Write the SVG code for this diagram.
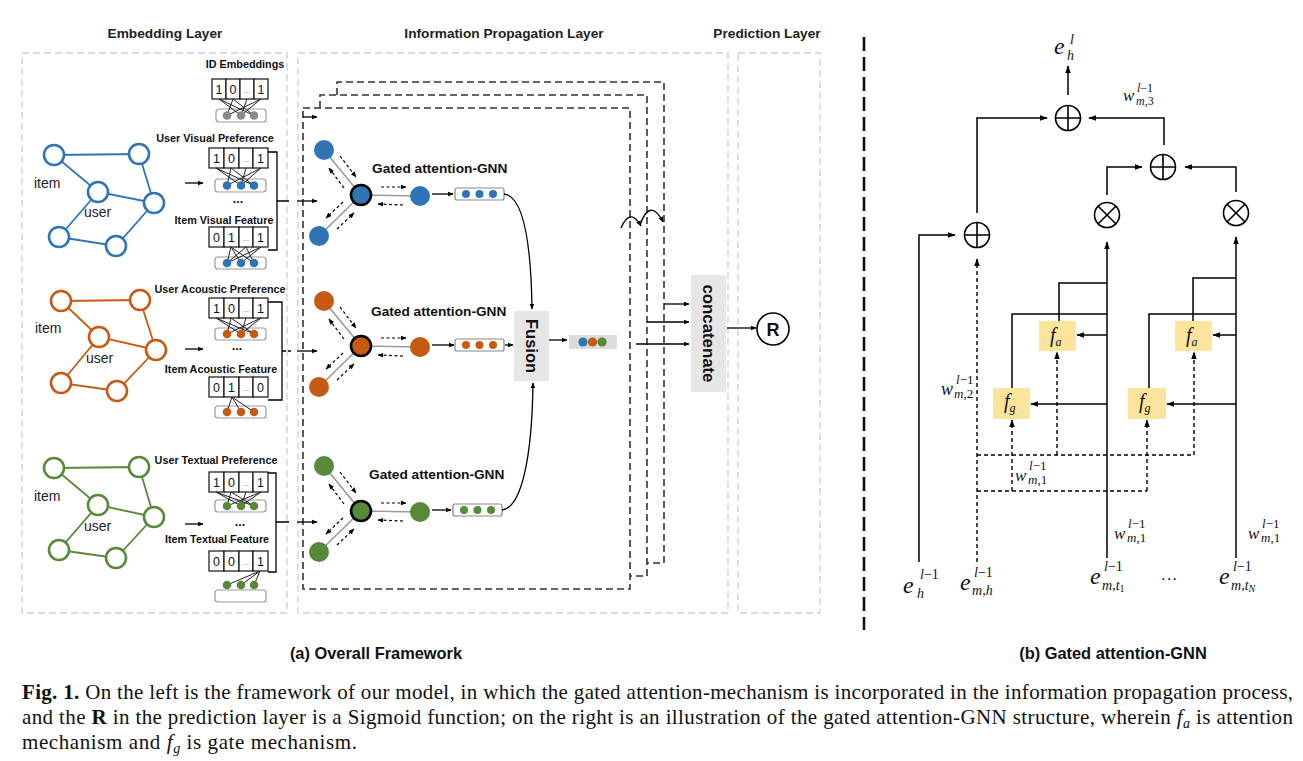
<svg xmlns="http://www.w3.org/2000/svg" width="1303" height="761" viewBox="0 0 1303 761">
<defs>
<marker id="ah" viewBox="0 0 10 10" refX="9" refY="5" markerWidth="8" markerHeight="8" markerUnits="userSpaceOnUse" orient="auto"><path d="M0,1.5 L10,5 L0,8.5 z" fill="#000"/></marker>
<marker id="as" viewBox="0 0 10 10" refX="9" refY="5" markerWidth="6" markerHeight="6" markerUnits="userSpaceOnUse" orient="auto"><path d="M0,1 L10,5 L0,9 z" fill="#000"/></marker>
<g id="op"><circle r="12.5" fill="#fff" stroke="#000" stroke-width="1.6"/><path d="M-12.5,0H12.5M0,-12.5V12.5" stroke="#000" stroke-width="1.6"/></g>
<g id="ot"><circle r="12.5" fill="#fff" stroke="#000" stroke-width="1.6"/><path d="M-8.8,-8.8L8.8,8.8M-8.8,8.8L8.8,-8.8" stroke="#000" stroke-width="1.6"/></g>
</defs>
<style>
text{font-family:"Liberation Sans",Arial,sans-serif}
.h{font-size:13.7px;font-weight:bold;fill:#222;text-anchor:middle}
.lb{font-size:10.8px;font-weight:bold;fill:#111;text-anchor:middle}
.gl{font-size:14px;fill:#222}
.num{font-size:12.5px;text-anchor:middle;fill:#111}
.dd{font-size:7px;text-anchor:middle;fill:#555}
.cell{fill:#fff;stroke:#111;stroke-width:1.2}
.base{fill:#fff;stroke:#999;stroke-width:1.2}
.mesh{stroke:#222;stroke-width:1;fill:none}
.lay{fill:none;stroke:#cfcfcf;stroke-width:1.3;stroke-dasharray:7,4}
.fr{fill:none;stroke:#333;stroke-width:1.6;stroke-dasharray:7,4}
.ln{fill:none;stroke:#000;stroke-width:1.3}
.da{fill:none;stroke:#000;stroke-width:1.2;stroke-dasharray:3,2.5}
.ed{stroke:#9a9a9a;stroke-width:1.6}
.gt{font-size:13.7px;font-weight:bold;fill:#111}
.m{font-family:"Liberation Serif","Times New Roman",serif;font-style:italic;fill:#111}
.up{font-style:normal}
.rl{fill:none;stroke:#000;stroke-width:1.5}
.rd{fill:none;stroke:#000;stroke-width:1.4;stroke-dasharray:4,3}
.fb{fill:#fde49c}
.cap{font-family:"Liberation Serif","Times New Roman",serif;font-size:21px;fill:#111}
.sub{font-size:16.4px;font-weight:bold;fill:#111;text-anchor:middle}
</style>

<!-- layer titles and frames -->
<g id="layers">
<text class="h" x="165" y="38">Embedding Layer</text>
<text class="h" x="504" y="38">Information Propagation Layer</text>
<text class="h" x="767" y="38">Prediction Layer</text>
<rect class="lay" x="22" y="53" width="265" height="560"/>
<rect class="lay" x="298" y="53" width="430" height="560"/>
<rect class="lay" x="738" y="53" width="82" height="560"/>
</g>

<!-- graphs -->
<g id="graph-visual" stroke="#2f74b5" fill="none">
<path stroke-width="1.8" d="M54,155 L139,154 L154,203 L98,192 L54,155 M98,192 L59,237 L116,246 L154,203"/>
<g fill="#fff" stroke-width="2.6"><circle cx="54" cy="155" r="10"/><circle cx="139" cy="154" r="10"/><circle cx="98" cy="192" r="10"/><circle cx="154" cy="203" r="10"/><circle cx="59" cy="237" r="10"/><circle cx="116" cy="246" r="10"/></g>
<text class="gl" x="34" y="188" stroke="none">item</text>
<text class="gl" x="84" y="217" stroke="none">user</text>
</g>
<g id="graph-acoustic" stroke="#c65a12" fill="none">
<path stroke-width="1.8" d="M61,301 L140,300 L156,350 L99,337 L61,301 M99,337 L61,383 L117,391 L156,350"/>
<g fill="#fff" stroke-width="2.6"><circle cx="61" cy="301" r="10"/><circle cx="140" cy="300" r="10"/><circle cx="99" cy="337" r="10"/><circle cx="156" cy="350" r="10"/><circle cx="61" cy="383" r="10"/><circle cx="117" cy="391" r="10"/></g>
<text class="gl" x="35" y="333" stroke="none">item</text>
<text class="gl" x="86" y="363" stroke="none">user</text>
</g>
<g id="graph-textual" stroke="#578a38" fill="none">
<path stroke-width="1.8" d="M54,468 L139,467 L154,517 L98,505 L54,468 M98,505 L59,550 L116,558 L154,517"/>
<g fill="#fff" stroke-width="2.6"><circle cx="54" cy="468" r="10"/><circle cx="139" cy="467" r="10"/><circle cx="98" cy="505" r="10"/><circle cx="154" cy="517" r="10"/><circle cx="59" cy="550" r="10"/><circle cx="116" cy="558" r="10"/></g>
<text class="gl" x="34" y="501" stroke="none">item</text>
<text class="gl" x="84" y="531" stroke="none">user</text>
</g>

<!-- embedding vectors -->
<g id="vec-id">
<text class="lb" x="245" y="68">ID Embeddings</text>
<rect class="cell" x="212" y="79" width="14" height="20"/><rect class="cell" x="226" y="79" width="14" height="20"/><rect class="cell" x="240" y="79" width="14" height="20"/><rect class="cell" x="254" y="79" width="14" height="20"/>
<text class="num" x="219" y="93.5">1</text><text class="num" x="233" y="93.5">0</text><text class="dd" x="247" y="93">...</text><text class="num" x="261" y="93.5">1</text>
<rect class="base" x="216" y="109" width="50" height="13" rx="3"/>
<path class="mesh" d="M219,99 L241,115.5 M219,99 L254,115.5 M233,99 L227,115.5 M233,99 L254,115.5 M261,99 L227,115.5 M261,99 L241,115.5 M247,99 L241,115.5"/>
<g fill="#8a8a8a"><circle cx="227" cy="115.5" r="4.3"/><circle cx="241" cy="115.5" r="4.3"/><circle cx="254" cy="115.5" r="4.3"/></g>
</g>

<g id="vec-user-visual">
<text class="lb" x="215" y="142">User Visual Preference</text>
<rect class="cell" x="209" y="148" width="15" height="20"/><rect class="cell" x="224" y="148" width="15" height="20"/><rect class="cell" x="239" y="148" width="14" height="20"/><rect class="cell" x="253" y="148" width="15" height="20"/>
<text class="num" x="216.5" y="162.5">1</text><text class="num" x="231.5" y="162.5">0</text><text class="dd" x="246" y="162">...</text><text class="num" x="260.5" y="162.5">1</text>
<rect class="base" x="215" y="179" width="51" height="13" rx="3"/>
<path class="mesh" d="M216,168 L241,185.5 M216,168 L254,185.5 M231,168 L227,185.5 M231,168 L254,185.5 M261,168 L227,185.5 M261,168 L241,185.5 M246,168 L241,185.5"/>
<g fill="#2f74b5"><circle cx="227" cy="185.5" r="4.3"/><circle cx="241" cy="185.5" r="4.3"/><circle cx="254" cy="185.5" r="4.3"/></g>
<text class="num" x="238" y="203" font-weight="bold">...</text>
</g>
<g id="vec-item-visual">
<text class="lb" x="224" y="224">Item Visual Feature</text>
<rect class="cell" x="209" y="227" width="15" height="20"/><rect class="cell" x="224" y="227" width="15" height="20"/><rect class="cell" x="239" y="227" width="14" height="20"/><rect class="cell" x="253" y="227" width="15" height="20"/>
<text class="num" x="216.5" y="241.5">0</text><text class="num" x="231.5" y="241.5">1</text><text class="dd" x="246" y="241">...</text><text class="num" x="260.5" y="241.5">1</text>
<rect class="base" x="215" y="257" width="51" height="12" rx="3"/>
<path class="mesh" d="M231,247 L227,263 M231,247 L241,263 M231,247 L254,263 M261,247 L227,263 M261,247 L241,263 M246,247 L227,263 M246,247 L254,263"/>
<g fill="#2f74b5"><circle cx="227" cy="263" r="4.3"/><circle cx="241" cy="263" r="4.3"/><circle cx="254" cy="263" r="4.3"/></g>
</g>

<g id="vec-user-acoustic">
<text class="lb" x="220" y="293">User Acoustic Preference</text>
<rect class="cell" x="209" y="298" width="15" height="20"/><rect class="cell" x="224" y="298" width="15" height="20"/><rect class="cell" x="239" y="298" width="14" height="20"/><rect class="cell" x="253" y="298" width="15" height="20"/>
<text class="num" x="216.5" y="312.5">1</text><text class="num" x="231.5" y="312.5">0</text><text class="dd" x="246" y="312">...</text><text class="num" x="260.5" y="312.5">1</text>
<rect class="base" x="215" y="328" width="51" height="12" rx="3"/>
<path class="mesh" d="M216,318 L241,334 M216,318 L254,334 M231,318 L227,334 M231,318 L254,334 M261,318 L227,334 M261,318 L241,334 M246,318 L241,334"/>
<g fill="#c65a12"><circle cx="227" cy="334" r="4.3"/><circle cx="241" cy="334" r="4.3"/><circle cx="254" cy="334" r="4.3"/></g>
<text class="num" x="237" y="350" font-weight="bold">...</text>
</g>
<g id="vec-item-acoustic">
<text class="lb" x="221" y="373">Item Acoustic Feature</text>
<rect class="cell" x="209" y="377" width="15" height="20"/><rect class="cell" x="224" y="377" width="15" height="20"/><rect class="cell" x="239" y="377" width="14" height="20"/><rect class="cell" x="253" y="377" width="15" height="20"/>
<text class="num" x="216.5" y="391.5">0</text><text class="num" x="231.5" y="391.5">1</text><text class="dd" x="246" y="391">...</text><text class="num" x="260.5" y="391.5">0</text>
<rect class="base" x="215" y="406" width="51" height="12" rx="3"/>
<path class="mesh" d="M232,397 L227,412 M232,397 L241,412 M232,397 L254,412"/>
<g fill="#c65a12"><circle cx="227" cy="412" r="4.3"/><circle cx="241" cy="412" r="4.3"/><circle cx="254" cy="412" r="4.3"/></g>
</g>

<g id="vec-user-textual">
<text class="lb" x="216" y="464">User Textual Preference</text>
<rect class="cell" x="209" y="472" width="15" height="20"/><rect class="cell" x="224" y="472" width="15" height="20"/><rect class="cell" x="239" y="472" width="14" height="20"/><rect class="cell" x="253" y="472" width="15" height="20"/>
<text class="num" x="216.5" y="486.5">1</text><text class="num" x="231.5" y="486.5">0</text><text class="dd" x="246" y="486">...</text><text class="num" x="260.5" y="486.5">1</text>
<rect class="base" x="215" y="500" width="51" height="12" rx="3"/>
<path class="mesh" d="M216,492 L241,506 M216,492 L254,506 M231,492 L227,506 M231,492 L254,506 M261,492 L227,506 M261,492 L241,506 M246,492 L241,506"/>
<g fill="#578a38"><circle cx="227" cy="506" r="4.3"/><circle cx="241" cy="506" r="4.3"/><circle cx="254" cy="506" r="4.3"/></g>
<text class="num" x="240" y="526" font-weight="bold">...</text>
</g>
<g id="vec-item-textual">
<text class="lb" x="217" y="543">Item Textual Feature</text>
<rect class="cell" x="209" y="551" width="15" height="20"/><rect class="cell" x="224" y="551" width="15" height="20"/><rect class="cell" x="239" y="551" width="14" height="20"/><rect class="cell" x="253" y="551" width="15" height="20"/>
<text class="num" x="216.5" y="565.5">0</text><text class="num" x="231.5" y="565.5">0</text><text class="dd" x="246" y="565">...</text><text class="num" x="260.5" y="565.5">1</text>
<rect class="base" x="215" y="590" width="51" height="12" rx="3"/>
<path class="mesh" d="M260,571 L227,585 M260,571 L241,585 M260,571 L254,585"/>
<g fill="#578a38"><circle cx="227" cy="585" r="4.3"/><circle cx="241" cy="585" r="4.3"/><circle cx="254" cy="585" r="4.3"/></g>
</g>

<!-- propagation frames -->
<g id="prop-frames">
<rect class="fr" x="303" y="108" width="327" height="481"/>
<path class="fr" d="M320,108 V95 H647 V576 H630"/>
<path class="fr" d="M337,95 V82 H664 V563 H647"/>
</g>

<!-- GNN blocks -->
<g id="gnn-visual">
<text class="gt" x="372" y="173">Gated attention-GNN</text>
<line class="ed" x1="324" y1="150" x2="361" y2="195"/><line class="ed" x1="319" y1="236" x2="361" y2="195"/><line class="ed" x1="361" y1="195" x2="420" y2="196"/>
<path class="da" marker-end="url(#as)" d="M340,156 L356,177"/>
<path class="da" marker-end="url(#as)" d="M344,188 L329,168"/>
<path class="da" marker-end="url(#as)" d="M343,202 L326,218"/>
<path class="da" marker-end="url(#as)" d="M337,229 L354,213"/>
<path class="da" marker-end="url(#as)" d="M381,187 L406,187"/>
<path class="da" marker-end="url(#as)" d="M403,205 L378,204"/>
<circle cx="324" cy="150" r="10" fill="#2f74b5"/><circle cx="319" cy="236" r="10" fill="#2f74b5"/><circle cx="420" cy="196" r="10" fill="#2f74b5"/>
<circle cx="361" cy="195" r="10" fill="#2f74b5" stroke="#000" stroke-width="2.6"/>
<rect x="455" y="188" width="49" height="12" rx="2" fill="#fff" stroke="#888" stroke-width="1.2"/>
<g fill="#2f74b5"><circle cx="466" cy="194" r="4"/><circle cx="479.5" cy="194" r="4"/><circle cx="493" cy="194" r="4"/></g>
</g>
<g id="gnn-acoustic">
<text class="gt" x="371" y="316">Gated attention-GNN</text>
<g transform="translate(0,151)">
<line class="ed" x1="324" y1="150" x2="361" y2="195"/><line class="ed" x1="319" y1="236" x2="361" y2="195"/><line class="ed" x1="361" y1="195" x2="420" y2="196"/>
<path class="da" marker-end="url(#as)" d="M340,156 L356,177"/>
<path class="da" marker-end="url(#as)" d="M344,188 L329,168"/>
<path class="da" marker-end="url(#as)" d="M343,202 L326,218"/>
<path class="da" marker-end="url(#as)" d="M337,229 L354,213"/>
<path class="da" marker-end="url(#as)" d="M381,187 L406,187"/>
<path class="da" marker-end="url(#as)" d="M403,205 L378,204"/>
<circle cx="324" cy="150" r="10" fill="#c65a12"/><circle cx="319" cy="236" r="10" fill="#c65a12"/><circle cx="420" cy="196" r="10" fill="#c65a12"/>
<circle cx="361" cy="195" r="10" fill="#c65a12" stroke="#000" stroke-width="2.6"/>
<rect x="455" y="188" width="49" height="12" rx="2" fill="#fff" stroke="#888" stroke-width="1.2"/>
<g fill="#c65a12"><circle cx="466" cy="194" r="4"/><circle cx="479.5" cy="194" r="4"/><circle cx="493" cy="194" r="4"/></g>
</g>
</g>
<g id="gnn-textual">
<text class="gt" x="369" y="479">Gated attention-GNN</text>
<g transform="translate(0,316)">
<line class="ed" x1="324" y1="150" x2="361" y2="195"/><line class="ed" x1="319" y1="236" x2="361" y2="195"/><line class="ed" x1="361" y1="195" x2="420" y2="196"/>
<path class="da" marker-end="url(#as)" d="M340,156 L356,177"/>
<path class="da" marker-end="url(#as)" d="M344,188 L329,168"/>
<path class="da" marker-end="url(#as)" d="M343,202 L326,218"/>
<path class="da" marker-end="url(#as)" d="M337,229 L354,213"/>
<path class="da" marker-end="url(#as)" d="M381,187 L406,187"/>
<path class="da" marker-end="url(#as)" d="M403,205 L378,204"/>
<circle cx="324" cy="150" r="10" fill="#578a38"/><circle cx="319" cy="236" r="10" fill="#578a38"/><circle cx="420" cy="196" r="10" fill="#578a38"/>
<circle cx="361" cy="195" r="10" fill="#578a38" stroke="#000" stroke-width="2.6"/>
<rect x="453" y="188" width="49" height="12" rx="2" fill="#fff" stroke="#888" stroke-width="1.2"/>
<g fill="#578a38"><circle cx="464" cy="194" r="4"/><circle cx="477.5" cy="194" r="4"/><circle cx="491" cy="194" r="4"/></g>
</g>
</g>

<g id="fusion">
<rect x="514" y="311" width="35" height="70" fill="#e6e6e6"/>
<text transform="translate(531.5,346) rotate(90)" font-size="16.5" font-weight="bold" fill="#111" text-anchor="middle" dominant-baseline="central">Fusion</text>
</g>
<g id="fused-vector">
<rect x="569" y="335" width="48" height="14" fill="#dcdcdc"/>
<circle cx="583" cy="342" r="4.6" fill="#2f74b5"/><circle cx="592.5" cy="342" r="4.6" fill="#c65a12"/><circle cx="602" cy="342" r="4.6" fill="#578a38"/>
</g>
<g id="concatenate">
<rect x="691" y="275" width="35" height="117" fill="#e6e6e6"/>
<text transform="translate(708.5,333.5) rotate(90)" font-size="16.8" font-weight="bold" fill="#111" text-anchor="middle" dominant-baseline="central">concatenate</text>
</g>
<g id="sigmoid">
<circle cx="773" cy="329" r="16" fill="#fff" stroke="#000" stroke-width="1.6"/>
<text x="773" y="335.5" font-size="18" font-weight="bold" text-anchor="middle" fill="#111">R</text>
</g>

<!-- connectors of the framework -->
<g id="connectors">
<path class="ln" marker-end="url(#as)" d="M185,183 H203"/>
<path class="ln" marker-end="url(#as)" d="M185,349 H203"/>
<path class="ln" marker-end="url(#as)" d="M185,524 H203"/>
<path class="ln" d="M268,152 H277 V250 H268 M277,201 H289"/>
<path class="ln" d="M268,302 H282 V400 H268"/>
<path class="ln" stroke-dasharray="4,2" d="M282,351 H291"/>
<path class="ln" d="M268,473 H276 V572 H268 M276,522 H289"/>
<path class="ln" marker-end="url(#as)" d="M297,201 H317"/>
<path class="ln" marker-end="url(#as)" d="M297,351 H317"/>
<path class="ln" marker-end="url(#as)" d="M297,522 H317"/>
<path class="ln" marker-end="url(#as)" d="M303,117 H317"/>
<path class="ln" marker-end="url(#as)" d="M432,194 H453"/>
<path class="ln" marker-end="url(#as)" d="M432,345 H454"/>
<path class="ln" marker-end="url(#as)" d="M432,510 H451"/>
<path class="ln" marker-end="url(#as)" d="M504,194 C523,196 531,240 532,309"/>
<path class="ln" marker-end="url(#as)" d="M505,345 H513"/>
<path class="ln" marker-end="url(#as)" d="M502,510 C521,508 532,460 533,383"/>
<path class="ln" marker-end="url(#as)" d="M549,340 H567"/>
<path class="ln" marker-end="url(#as)" d="M664,304 H689"/>
<path class="ln" marker-end="url(#as)" d="M647,322 H689"/>
<path class="ln" marker-end="url(#as)" d="M636,344 H689"/>
<path class="ln" marker-end="url(#as)" d="M727,328 H756"/>
<path class="ln" stroke-width="1.6" marker-end="url(#as)" d="M621,228 Q630,207 641,226"/>
<path class="ln" stroke-width="1.6" marker-end="url(#as)" d="M640,225 Q650,197 663,222"/>
</g>

<text class="sub" x="376" y="659">(a) Overall Framework</text>

<!-- separator -->
<line x1="864" y1="37" x2="864" y2="630" stroke="#111" stroke-width="2.6" stroke-dasharray="14,6"/>

<!-- (b) gated attention-GNN -->
<g id="gagnn-nodes">
<use href="#op" x="1068" y="118"/>
<use href="#op" x="1163" y="167"/>
<use href="#op" x="977" y="235"/>
<use href="#ot" x="1107" y="215"/>
<use href="#ot" x="1236" y="213"/>
<g id="fa1"><rect class="fb" x="1039" y="321" width="37" height="30"/><text class="m" x="1050" y="342" font-size="20">f<tspan font-size="12" dy="4">a</tspan></text></g>
<g id="fg1"><rect class="fb" x="993" y="388" width="37" height="31"/><text class="m" x="1004" y="408" font-size="20">f<tspan font-size="12" dy="4">g</tspan></text></g>
<g id="fa2"><rect class="fb" x="1175" y="321" width="37" height="30"/><text class="m" x="1186" y="342" font-size="20">f<tspan font-size="12" dy="4">a</tspan></text></g>
<g id="fg2"><rect class="fb" x="1128" y="388" width="38" height="31"/><text class="m" x="1139" y="408" font-size="20">f<tspan font-size="12" dy="4">g</tspan></text></g>
</g>
<g id="gagnn-connectors">
<path class="rl" marker-end="url(#ah)" d="M1068,95 V66"/>
<path class="rl" marker-end="url(#ah)" d="M977,213 V118 H1047"/>
<path class="rl" marker-end="url(#ah)" d="M1164,145 V118 H1089"/>
<path class="rl" marker-end="url(#ah)" d="M1107,195 V167 H1142"/>
<path class="rl" marker-end="url(#ah)" d="M1236,192 V167 H1185"/>
<path class="rl" marker-end="url(#ah)" d="M919,562 V235 H955"/>
<path class="rd" marker-end="url(#ah)" d="M977,562 V259"/>
<path class="rl" marker-end="url(#ah)" d="M1107,558 V242"/>
<path class="rl" marker-end="url(#ah)" d="M1236,558 V237"/>
<path class="rl" d="M1059,321 V283 H1107 M1012,388 V314 H1107"/>
<path class="rl" d="M1193,321 V278 H1236 M1149,388 V314 H1236"/>
<path class="rl" marker-end="url(#ah)" d="M1107,335 H1077"/>
<path class="rl" marker-end="url(#ah)" d="M1107,404 H1031"/>
<path class="rl" marker-end="url(#ah)" d="M1236,335 H1213"/>
<path class="rl" marker-end="url(#ah)" d="M1236,404 H1167"/>
<path class="rd" d="M977,455 H1194 M977,491 H1147"/>
<path class="rd" marker-end="url(#ah)" d="M1057,455 V352"/>
<path class="rd" marker-end="url(#ah)" d="M1012,491 V420"/>
<path class="rd" marker-end="url(#ah)" d="M1194,455 V352"/>
<path class="rd" marker-end="url(#ah)" d="M1147,491 V420"/>
</g>
<g id="gagnn-labels">
<text class="m" x="1054" y="54" font-size="24">e</text>
<text class="m" x="1070" y="44" font-size="14">l</text>
<text class="m" x="1067" y="60" font-size="14">h</text>
<text class="m" x="1123" y="101" font-size="17">w</text>
<text class="m" x="1137" y="92" font-size="12">l<tspan class="up">−1</tspan></text>
<text class="m" x="1136" y="105" font-size="12">m<tspan class="up">,3</tspan></text>
<text class="m" x="941" y="395" font-size="18">w</text>
<text class="m" x="956" y="384" font-size="13">l<tspan class="up">−1</tspan></text>
<text class="m" x="954" y="398" font-size="13">m<tspan class="up">,2</tspan></text>
<text class="m" x="1015" y="481" font-size="17">w</text>
<text class="m" x="1029" y="470" font-size="13">l<tspan class="up">−1</tspan></text>
<text class="m" x="1028" y="484" font-size="13">m<tspan class="up">,1</tspan></text>
<text class="m" x="1114" y="539" font-size="17">w</text>
<text class="m" x="1128" y="528" font-size="13">l<tspan class="up">−1</tspan></text>
<text class="m" x="1127" y="542" font-size="13">m<tspan class="up">,1</tspan></text>
<text class="m" x="1248" y="539" font-size="17">w</text>
<text class="m" x="1262" y="528" font-size="13">l<tspan class="up">−1</tspan></text>
<text class="m" x="1261" y="542" font-size="13">m<tspan class="up">,1</tspan></text>
<text class="m" x="903" y="593" font-size="24">e</text>
<text class="m" x="920" y="579" font-size="14">l<tspan class="up">−1</tspan></text>
<text class="m" x="917" y="598" font-size="14">h</text>
<text class="m" x="960" y="590" font-size="24">e</text>
<text class="m" x="974" y="577" font-size="14">l<tspan class="up">−1</tspan></text>
<text class="m" x="972" y="595" font-size="14">m<tspan class="up">,</tspan>h</text>
<text class="m" x="1090" y="584" font-size="24">e</text>
<text class="m" x="1104" y="571" font-size="14">l<tspan class="up">−1</tspan></text>
<text class="m" x="1102" y="590" font-size="14">m<tspan class="up">,</tspan>t<tspan class="up" font-size="10" dy="2">1</tspan></text>
<text x="1169" y="584" font-size="17" text-anchor="middle" fill="#111">···</text>
<text class="m" x="1219" y="584" font-size="24">e</text>
<text class="m" x="1233" y="571" font-size="14">l<tspan class="up">−1</tspan></text>
<text class="m" x="1231" y="590" font-size="14">m<tspan class="up">,</tspan>t<tspan font-size="10" dy="2">N</tspan></text>
</g>
<text class="sub" x="1113" y="659">(b) Gated attention-GNN</text>

<!-- caption -->
<g id="caption">
<text class="cap" x="22" y="699" textLength="1271" lengthAdjust="spacing"><tspan font-weight="bold">Fig. 1.</tspan> On the left is the framework of our model, in which the gated attention-mechanism is incorporated in the information propagation process,</text>
<text class="cap" x="22" y="724" textLength="1271" lengthAdjust="spacing">and the <tspan font-weight="bold">R</tspan> in the prediction layer is a Sigmoid function; on the right is an illustration of the gated attention-GNN structure, wherein <tspan font-style="italic">f</tspan><tspan font-style="italic" font-size="14" dy="4">a</tspan><tspan dy="-4"> is attention</tspan></text>
<text class="cap" x="22" y="749" textLength="335" lengthAdjust="spacing">mechanism and <tspan font-style="italic">f</tspan><tspan font-style="italic" font-size="14" dy="4">g</tspan><tspan dy="-4"> is gate mechanism.</tspan></text>
</g>
</svg>
